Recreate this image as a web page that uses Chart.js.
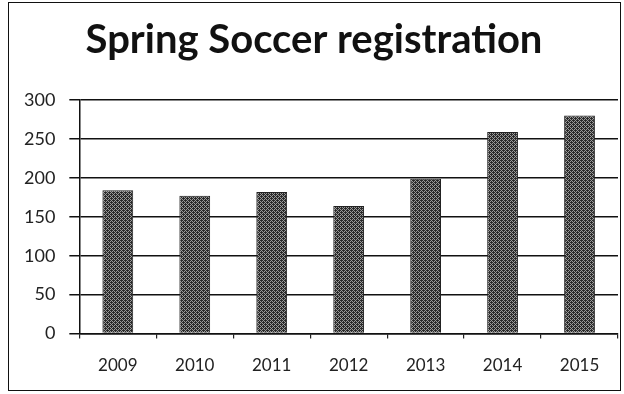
<!DOCTYPE html>
<html>
<head>
<meta charset="utf-8">
<script src="https://cdn.jsdelivr.net/npm/chart.js@4"></script>
<style>
  html, body { margin: 0; padding: 0; background: #fff; }
  #wrap { position: relative; width: 624px; height: 394px; }
  #frame { position: absolute; left: 8px; top: 2px; width: 613px; height: 389px; border: 1.5px solid #111; box-sizing: border-box; pointer-events: none; }
  canvas { position: absolute; left: 0; top: 0; }
</style>
</head>
<body>
<div id="wrap">
  <canvas id="chart" width="624" height="394"></canvas>
  <div id="frame"></div>
</div>
<script>
const years = ['2009', '2010', '2011', '2012', '2013', '2014', '2015'];
const registrations = [184, 177, 182, 164, 199, 259, 280];
const yTicks = [0, 50, 100, 150, 200, 250, 300];

// stippled grey fill, like the printed bars
function stipple() {
    const c = document.createElement('canvas');
    c.width = 4; c.height = 4;
    const g = c.getContext('2d');
    g.fillStyle = '#9a9a9a';
    g.fillRect(0, 0, 4, 4);
    g.fillStyle = '#2a2a2a';
    [[0,0],[2,0],[1,1],[3,1],[0,2],[2,2],[1,3],[3,3],[1,0],[3,2]].forEach(p => g.fillRect(p[0], p[1], 1, 1));
    return g.createPattern(c, 'repeat');
}

const ctx = document.getElementById('chart').getContext('2d');

new Chart(ctx, {
    type: 'bar',
    data: {
        labels: years,
        datasets: [{
            data: registrations,
            backgroundColor: stipple(),
            borderColor: '#222',
            borderWidth: 1,
            barPercentage: 0.4,
            categoryPercentage: 1.0
        }]
    },
    options: {
        responsive: false,
        animation: false,
        layout: { padding: { left: 10, right: 6, bottom: 1 } },
        plugins: {
            legend: { display: false },
            tooltip: { enabled: false },
            title: {
                display: true,
                text: 'Spring Soccer registration',
                color: '#111',
                font: { family: 'Lato', size: 40, weight: 'bold' },
                padding: { top: 16, bottom: 36 }
            }
        },
        scales: {
            x: {
                grid: { display: true, drawOnChartArea: false, drawTicks: true, tickLength: 5, color: '#222', lineWidth: 1.2 },
                border: { display: true, color: '#111', width: 1.5 },
                ticks: { color: '#222', font: { family: 'Lato', size: 17 }, padding: 17 }
            },
            y: {
                min: 0,
                max: 300,
                afterBuildTicks: axis => { axis.ticks = yTicks.map(v => ({ value: v })); },
                grid: { color: '#111', lineWidth: 1.5, tickLength: 10 },
                border: { display: true, color: '#111', width: 1.5 },
                ticks: { color: '#222', font: { family: 'Lato', size: 18 }, padding: 14 }
            }
        }
    }
});
</script>
</body>
</html>
